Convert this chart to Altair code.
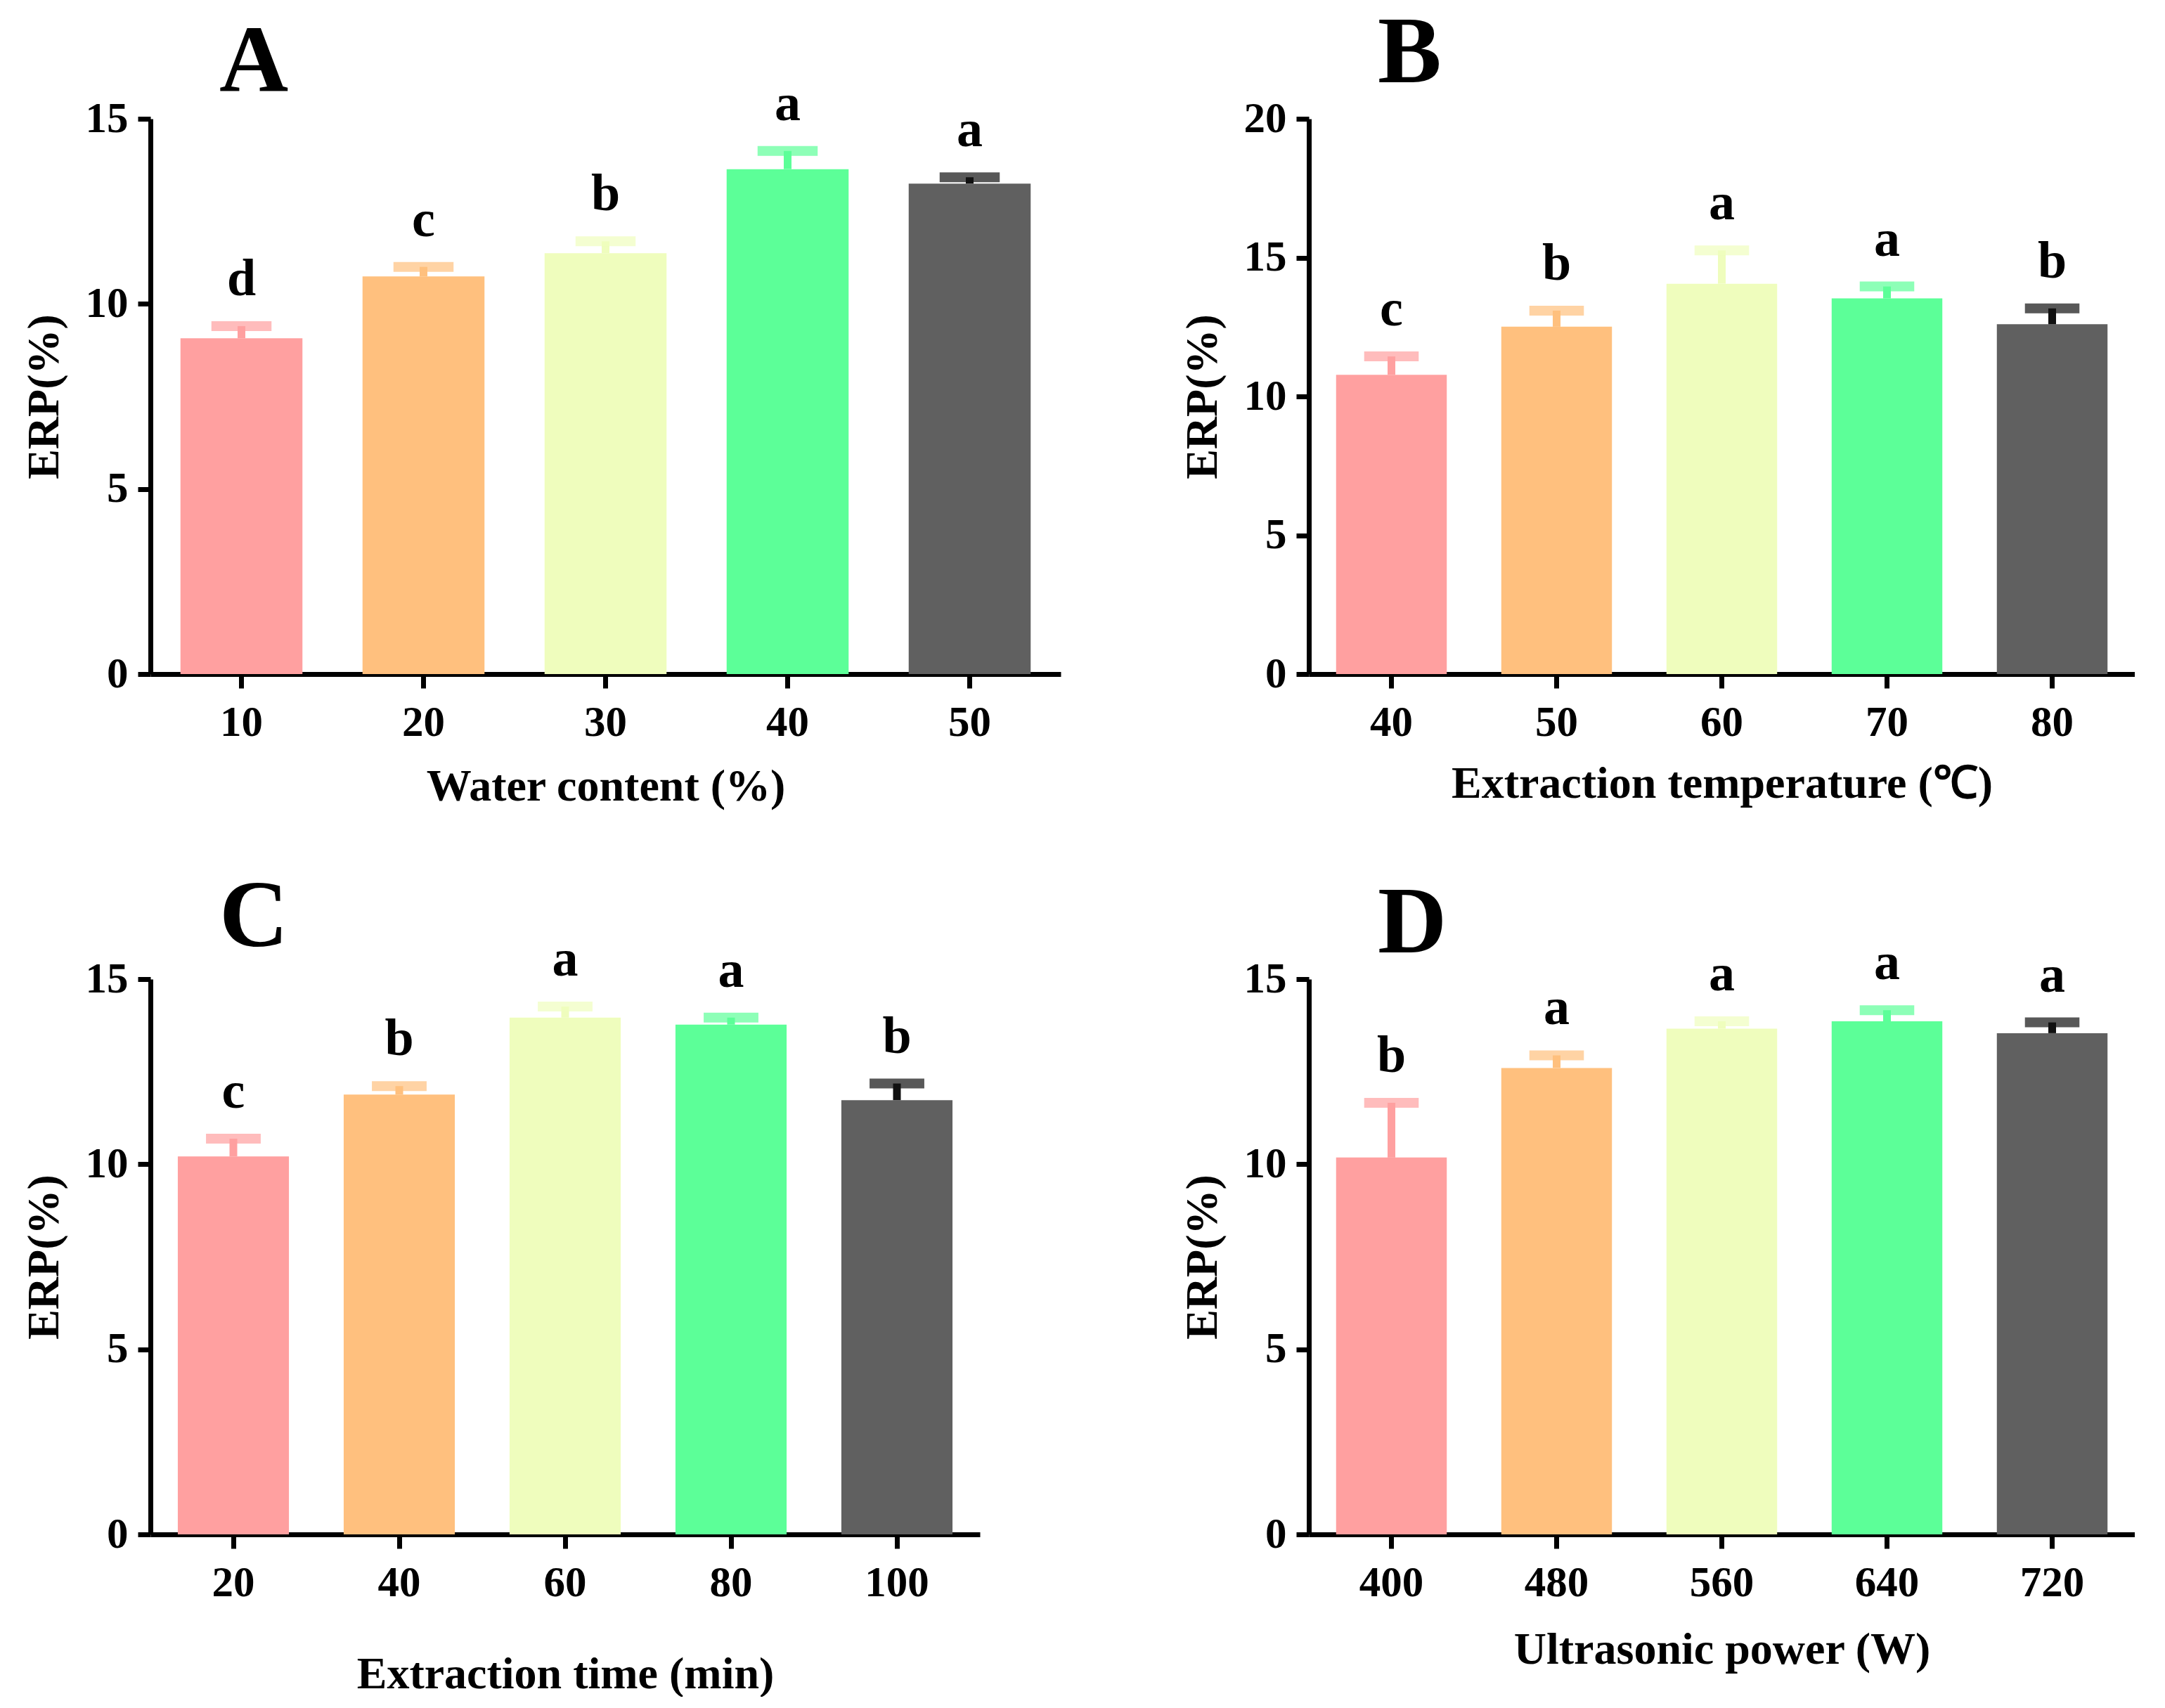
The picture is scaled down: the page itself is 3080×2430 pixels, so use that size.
import altair as alt
import pandas as pd

FONT = "Liberation Serif"

# Panel A: water content
a_cats = ["10", "20", "30", "40", "50"]
a_mean = [9.07, 10.74, 11.37, 13.64, 13.25]
a_err = [0.33, 0.26, 0.32, 0.49, 0.17]
a_sig = ["d", "c", "b", "a", "a"]

# Panel B: extraction temperature
b_cats = ["40", "50", "60", "70", "80"]
b_mean = [10.78, 12.51, 14.06, 13.53, 12.60]
b_err = [0.66, 0.58, 1.20, 0.43, 0.57]
b_sig = ["c", "b", "a", "a", "b"]

# Panel C: extraction time
c_cats = ["20", "40", "60", "80", "100"]
c_mean = [10.21, 11.88, 13.96, 13.77, 11.73]
c_err = [0.48, 0.23, 0.30, 0.19, 0.45]
c_sig = ["c", "b", "a", "a", "b"]

# Panel D: ultrasonic power
d_cats = ["400", "480", "560", "640", "720"]
d_mean = [10.18, 12.60, 13.66, 13.86, 13.54]
d_err = [1.48, 0.34, 0.20, 0.30, 0.29]
d_sig = ["b", "a", "a", "a", "a"]

bar_colors = ["#FFA0A0", "#FFC07E", "#EFFDBD", "#5CFF98", "#606060"]
err_colors = ["#FFA0A0", "#FFC07E", "#EFFDBD", "#5CFF98", "#111111"]


def panel(cats, means, errs, sigs, xtitle, ymax, width, height,
          letter, letter_dy, xtitle_pad):
    df = pd.DataFrame({
        "cat": cats,
        "mean": means,
        "upper": [m + e for m, e in zip(means, errs)],
        "sig": sigs,
        "bcolor": bar_colors,
        "ecolor": err_colors,
    })
    step = width / len(cats)

    def xenc():
        return alt.X(
            "cat:N", sort=cats, title=xtitle,
            scale=alt.Scale(paddingInner=0.33, paddingOuter=0.165),
            axis=alt.Axis(labelAngle=0, tickSize=20, labelPadding=19,
                          titlePadding=xtitle_pad),
        )

    def yenc(field):
        return alt.Y(
            field, title="ERP(%)",
            scale=alt.Scale(domain=[0, ymax], nice=False, zero=True),
            axis=alt.Axis(values=list(range(0, ymax + 1, 5)), tickSize=18,
                          labelPadding=14, titlePadding=26),
        )

    bars = alt.Chart(df).mark_bar().encode(
        x=xenc(), y=yenc("mean:Q"),
        color=alt.Color("bcolor:N", scale=None),
    )
    stem = alt.Chart(df).mark_rule(strokeWidth=11).encode(
        x=xenc(), y=yenc("mean:Q"), y2="upper:Q",
        color=alt.Color("ecolor:N", scale=None),
    )
    cap = alt.Chart(df).mark_tick(thickness=14, size=step * 0.33).encode(
        x=xenc(), y=yenc("upper:Q"),
        color=alt.Color("ecolor:N", scale=None),
    )
    text = alt.Chart(df).mark_text(
        font=FONT, fontWeight="bold", fontSize=74, dy=-44,
        baseline="alphabetic", color="black",
    ).encode(x=xenc(), y=yenc("upper:Q"), text="sig:N")

    return alt.layer(bars, stem, cap, text).properties(
        width=width, height=height,
        title=alt.TitleParams(
            letter, anchor="start", dx=98, dy=letter_dy, offset=44,
            frame="group", fontSize=136, font=FONT, fontWeight="bold",
            baseline="alphabetic", color="black",
        ),
    )


pA = panel(a_cats, a_mean, a_err, a_sig, "Water content (%)", 15, 1295, 790, "A", 198, 29)
pB = panel(b_cats, b_mean, b_err, b_sig, "Extraction temperature (℃)", 20, 1175, 790, "B", 159, 25)
pC = panel(c_cats, c_mean, c_err, c_sig, "Extraction time (min)", 15, 1180, 790, "C", 197, 68)
pD = panel(d_cats, d_mean, d_err, d_sig, "Ultrasonic power (W)", 15, 1175, 790, "D", 201, 33)

chart = alt.concat(
    pA, pB, pC, pD, columns=2,
    spacing={"row": 434, "column": 353}, bounds="flush",
).properties(
    padding={"left": 23, "top": 0, "right": 0, "bottom": 0},
    background="white",
).configure_view(strokeWidth=0).configure_axis(
    domainColor="black", domainWidth=7, tickColor="black", tickWidth=7,
    labelFont=FONT, labelFontWeight="bold", labelFontSize=61, labelColor="black",
    titleFont=FONT, titleFontWeight="bold", titleFontSize=64, titleColor="black",
    grid=False,
)

chart.save("out.html", embed_options={"renderer": "svg", "actions": False})
